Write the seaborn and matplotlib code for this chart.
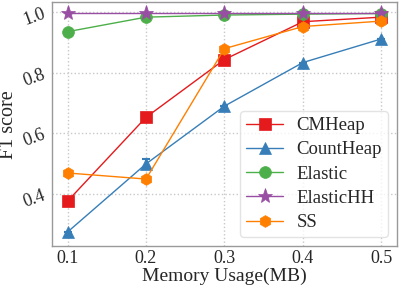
import matplotlib
matplotlib.use("Agg")
import matplotlib.pyplot as plt
import seaborn as sns
import pandas as pd

memory = [0.1, 0.2, 0.3, 0.4, 0.5]
cmheap = [0.375, 0.652, 0.843, 0.968, 0.983]
countheap = [0.273, 0.498, 0.689, 0.833, 0.911]
elastic = [0.935, 0.983, 0.990, 0.993, 0.995]
elastichh = [0.998, 0.998, 0.998, 0.998, 0.998]
ss = [0.468, 0.448, 0.879, 0.952, 0.970]
countheap_err = [0.0, 0.015, 0.0, 0.0, 0.0]

series = {"CMHeap": cmheap, "CountHeap": countheap, "Elastic": elastic,
          "ElasticHH": elastichh, "SS": ss}
colors = {"CMHeap": "#e41a1c", "CountHeap": "#377eb8", "Elastic": "#4daf4a",
          "ElasticHH": "#984ea3", "SS": "#ff7f00"}
markers = {"CMHeap": "s", "CountHeap": "^", "Elastic": "o", "ElasticHH": "*", "SS": "h"}

rows = []
for name, vals in series.items():
    for m, v in zip(memory, vals):
        rows.append({"Memory": m, "F1": v, "Method": name})
df = pd.DataFrame(rows)

sns.set_theme(style="whitegrid")
plt.rcParams["font.family"] = ["Liberation Serif", "DejaVu Serif"]

fig, ax = plt.subplots(figsize=(3.99, 2.89), dpi=100)
for name in series:
    sub = df[df["Method"] == name]
    sns.lineplot(data=sub, x="Memory", y="F1", ax=ax, color=colors[name],
                 marker=markers[name], markersize=11 if name == "ElasticHH" else 8.5,
                 markeredgewidth=0.5, markeredgecolor=colors[name],
                 linewidth=1, label=name, errorbar=None)
ax.errorbar(memory, countheap, yerr=countheap_err, fmt="none",
            ecolor=colors["CountHeap"], elinewidth=1.5, capsize=3, capthick=1.5)

ax.set_xticks(memory)
ax.set_xticklabels([str(m) for m in memory], fontsize=13)
ax.set_yticks([0.4, 0.6, 0.8, 1.0])
ax.set_yticklabels(["0.4", "0.6", "0.8", "1.0"], fontsize=13, rotation=20)
ax.set_xlabel("Memory Usage(MB)", fontsize=14, labelpad=0)
ax.set_ylabel("F1 score", fontsize=14.5, labelpad=2)
ax.set_xlim(0.08, 0.52)
ax.set_ylim(0.226, 1.033)
ax.grid(True, linestyle=":", color="#c8c8c8", linewidth=1)
for s in ax.spines.values():
    s.set_color("#999999")
    s.set_linewidth(1)
ax.tick_params(axis="x", length=0, pad=3)
ax.tick_params(axis="y", length=0, pad=3)

leg = ax.legend(loc="lower right", fontsize=13.5, frameon=True, handlelength=2.0,
                borderpad=0.3, labelspacing=0.38, handletextpad=0.7,
                borderaxespad=0.5)
leg.get_frame().set_edgecolor("#dddddd")

fig.subplots_adjust(left=0.13, right=0.995, top=0.993, bottom=0.148)
fig.savefig("out.png", dpi=100)
